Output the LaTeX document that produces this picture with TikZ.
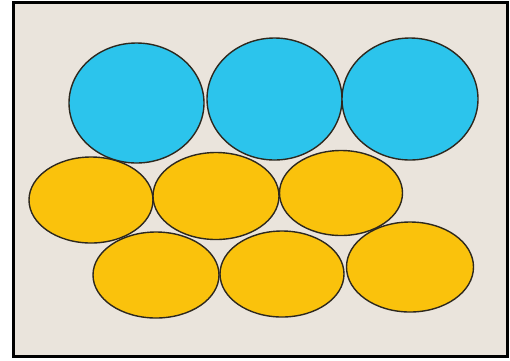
\documentclass[tikz,border=0pt]{standalone}
\usetikzlibrary{shapes.geometric}
\definecolor{bg}{RGB}{234,228,220}
\definecolor{cblue}{RGB}{44,196,236}
\definecolor{cyel}{RGB}{250,194,12}
\definecolor{edge}{RGB}{45,40,30}
\begin{document}
\begin{tikzpicture}[x=1pt,y=-1pt,
  blob/.style={ellipse,draw=edge,line width=1.4pt,inner sep=0pt},
  bluecell/.style={blob,fill=cblue},
  yelcell/.style={blob,fill=cyel}]
\fill[white] (0,0) rectangle (510,360);
\useasboundingbox (0,0) rectangle (510,360);
\draw[fill=bg,line width=3pt] (13.5,2.5) rectangle (507.5,356.5);
% bottom row
\node[yelcell,minimum width=126pt,minimum height=86pt] (y4) at (156,275) {};
\node[yelcell,minimum width=124pt,minimum height=86pt] (y5) at (282,274) {};
\node[yelcell,minimum width=127pt,minimum height=90pt] (y6) at (410,267) {};
% middle row
\node[yelcell,minimum width=124pt,minimum height=86pt] (y1) at (91,200) {};
\node[yelcell,minimum width=126pt,minimum height=87pt] (y2) at (216,196) {};
\node[yelcell,minimum width=123pt,minimum height=85pt] (y3) at (341,193) {};
% top row
\node[bluecell,minimum width=135pt,minimum height=120pt] (b1) at (136.5,103) {};
\node[bluecell,minimum width=135pt,minimum height=122pt] (b2) at (274.5,99) {};
\node[bluecell,minimum width=136pt,minimum height=122pt] (b3) at (410,99) {};
\end{tikzpicture}
\end{document}
